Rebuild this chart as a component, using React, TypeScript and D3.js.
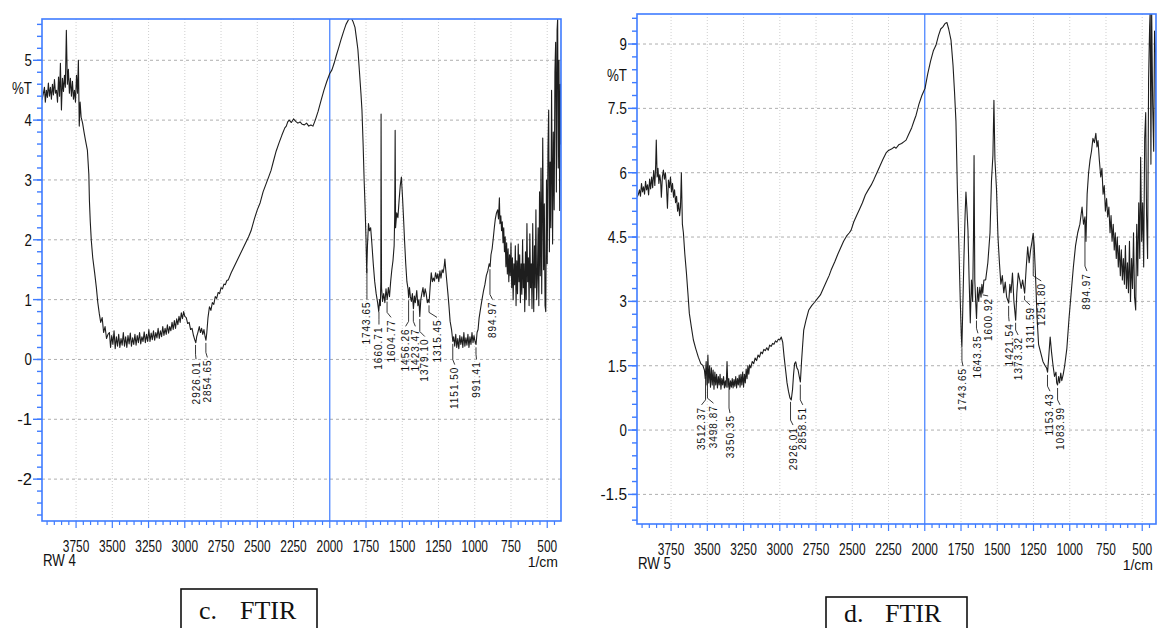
import React from "react";
import * as d3 from "d3";

// wavenumber (1/cm), %T  -- sample RW 4
const rw4Spectrum: [number, number][] = [
  [3985, 4.34], [3975, 4.45], [3968, 4.55], [3962, 4.3], [3955, 4.5], [3948, 4.38], [3941, 4.62], [3934, 4.4],
  [3927, 4.55], [3920, 4.35], [3913, 4.6], [3906, 4.42], [3899, 4.68], [3892, 4.45], [3885, 4.5], [3878, 4.3],
  [3871, 4.72], [3864, 4.4], [3858, 4.95], [3851, 4.17], [3844, 4.7], [3837, 4.48], [3830, 4.75], [3824, 4.55],
  [3817, 5.5], [3810, 4.6], [3803, 4.85], [3796, 4.45], [3789, 4.7], [3782, 4.4], [3775, 4.65], [3768, 4.35],
  [3761, 4.5], [3754, 4.3], [3747, 4.75], [3740, 4.45], [3734, 5.0], [3728, 3.9], [3722, 4.3], [3715, 4.05],
  [3705, 3.95], [3695, 3.8], [3685, 3.66], [3672, 3.5], [3662, 3.1], [3658, 2.66], [3652, 2.3], [3645, 1.99],
  [3635, 1.7], [3622, 1.45], [3610, 1.2], [3600, 0.95], [3590, 0.77], [3580, 0.62], [3570, 0.7], [3560, 0.45],
  [3550, 0.55], [3540, 0.35], [3530, 0.42], [3520, 0.45], [3512, 0.2], [3504, 0.4], [3496, 0.25], [3488, 0.48],
  [3480, 0.18], [3472, 0.38], [3464, 0.22], [3456, 0.42], [3448, 0.2], [3440, 0.35], [3432, 0.24], [3424, 0.45],
  [3416, 0.22], [3408, 0.38], [3400, 0.2], [3392, 0.4], [3384, 0.26], [3376, 0.44], [3368, 0.22], [3360, 0.36],
  [3352, 0.25], [3344, 0.42], [3336, 0.24], [3328, 0.4], [3320, 0.28], [3312, 0.45], [3304, 0.26], [3296, 0.38],
  [3288, 0.3], [3280, 0.46], [3272, 0.28], [3264, 0.42], [3256, 0.3], [3248, 0.5], [3240, 0.3], [3232, 0.44],
  [3224, 0.33], [3216, 0.48], [3208, 0.32], [3200, 0.45], [3192, 0.36], [3184, 0.52], [3176, 0.35], [3168, 0.48],
  [3160, 0.38], [3152, 0.55], [3144, 0.4], [3136, 0.52], [3128, 0.42], [3120, 0.58], [3112, 0.44], [3104, 0.55],
  [3096, 0.48], [3088, 0.62], [3080, 0.5], [3072, 0.65], [3064, 0.52], [3056, 0.68], [3048, 0.58], [3040, 0.72],
  [3032, 0.62], [3024, 0.78], [3016, 0.68], [3008, 0.8], [3000, 0.72], [2990, 0.7], [2980, 0.6], [2970, 0.62],
  [2960, 0.5], [2950, 0.52], [2940, 0.4], [2930, 0.32], [2924, 0.28], [2918, 0.38], [2910, 0.45], [2900, 0.55],
  [2892, 0.45], [2884, 0.52], [2876, 0.42], [2868, 0.5], [2860, 0.38], [2854, 0.32], [2848, 0.45], [2840, 0.7],
  [2830, 0.88], [2820, 0.82], [2810, 0.95], [2800, 0.92], [2790, 1.05], [2780, 1.02], [2770, 1.12], [2760, 1.1],
  [2750, 1.2], [2740, 1.18], [2730, 1.26], [2720, 1.25], [2710, 1.32], [2700, 1.33], [2680, 1.45], [2660, 1.55],
  [2640, 1.65], [2620, 1.75], [2600, 1.85], [2580, 1.95], [2560, 2.05], [2543, 2.15], [2520, 2.35], [2500, 2.5],
  [2480, 2.62], [2460, 2.8], [2440, 2.93], [2420, 3.06], [2405, 3.16], [2390, 3.3], [2370, 3.48], [2350, 3.62],
  [2330, 3.75], [2310, 3.87], [2300, 3.9], [2290, 3.97], [2280, 4.0], [2265, 3.96], [2250, 4.02], [2235, 3.98],
  [2220, 3.95], [2205, 3.97], [2190, 3.93], [2175, 3.92], [2160, 3.95], [2145, 3.9], [2130, 3.92], [2116, 3.9],
  [2100, 4.0], [2080, 4.15], [2060, 4.33], [2040, 4.5], [2020, 4.65], [2000, 4.78], [1985, 4.84], [1970, 4.95],
  [1955, 5.08], [1940, 5.2], [1923, 5.34], [1905, 5.48], [1888, 5.6], [1870, 5.68], [1854, 5.72], [1840, 5.65],
  [1826, 5.55], [1815, 5.35], [1806, 5.18], [1795, 4.8], [1785, 4.45], [1778, 4.17], [1770, 3.6], [1763, 3.0],
  [1757, 2.6], [1750, 2.0], [1745, 1.45], [1740, 1.9], [1733, 2.27], [1726, 2.15], [1718, 2.2], [1710, 1.95],
  [1700, 1.6], [1690, 1.3], [1680, 1.1], [1670, 0.95], [1662, 0.8], [1656, 1.0], [1651, 0.9], [1648, 1.3],
  [1646, 4.1], [1643, 1.2], [1636, 0.97], [1628, 1.1], [1620, 0.95], [1612, 1.18], [1604, 1.0], [1596, 1.2],
  [1588, 1.05], [1580, 1.3], [1572, 1.5], [1564, 1.65], [1556, 1.9], [1552, 2.4], [1549, 3.83], [1546, 2.2],
  [1538, 2.45], [1530, 2.37], [1522, 2.65], [1514, 2.9], [1506, 3.05], [1498, 2.7], [1490, 2.3], [1484, 1.98],
  [1476, 1.6], [1468, 1.3], [1460, 1.18], [1456, 1.03], [1450, 1.2], [1444, 1.05], [1437, 0.97], [1430, 1.1],
  [1423, 0.85], [1416, 1.06], [1410, 0.95], [1400, 1.15], [1392, 0.9], [1385, 1.0], [1379, 0.72], [1372, 1.0],
  [1365, 1.1], [1357, 1.2], [1350, 1.05], [1342, 1.18], [1335, 1.1], [1327, 0.95], [1320, 1.0], [1315, 0.95],
  [1308, 1.2], [1300, 1.45], [1292, 1.3], [1285, 1.36], [1278, 1.31], [1270, 1.45], [1262, 1.35], [1255, 1.43],
  [1248, 1.3], [1240, 1.48], [1233, 1.36], [1225, 1.5], [1218, 1.45], [1211, 1.55], [1206, 1.68], [1200, 1.5],
  [1193, 1.31], [1185, 1.1], [1178, 0.9], [1170, 0.64], [1160, 0.5], [1151, 0.3], [1145, 0.38], [1138, 0.22],
  [1131, 0.42], [1124, 0.2], [1117, 0.35], [1110, 0.18], [1103, 0.4], [1096, 0.25], [1089, 0.38], [1082, 0.2],
  [1075, 0.45], [1068, 0.22], [1061, 0.36], [1054, 0.24], [1047, 0.42], [1040, 0.2], [1033, 0.38], [1026, 0.25],
  [1019, 0.45], [1012, 0.28], [1005, 0.4], [998, 0.3], [991, 0.25], [984, 0.45], [977, 0.5], [970, 0.69],
  [960, 0.85], [950, 1.0], [940, 1.14], [930, 1.25], [920, 1.4], [910, 1.48], [900, 1.6], [894, 1.55],
  [888, 1.75], [880, 1.85], [872, 2.03], [865, 2.2], [858, 2.35], [850, 2.45], [842, 2.5], [836, 2.35],
  [830, 2.7], [826, 2.27], [820, 2.4], [815, 2.15], [810, 2.3], [805, 1.95], [800, 2.2], [795, 1.8],
  [790, 2.05], [785, 1.55], [780, 1.95], [775, 1.43], [770, 1.85], [765, 1.3], [760, 1.75], [755, 1.4],
  [750, 1.95], [745, 1.2], [740, 1.7], [735, 1.0], [730, 1.6], [725, 1.25], [720, 1.9], [715, 0.9],
  [710, 1.65], [705, 1.1], [700, 1.93], [695, 1.3], [690, 1.75], [685, 0.95], [680, 1.6], [675, 1.09],
  [670, 2.0], [665, 1.2], [660, 1.6], [655, 0.8], [650, 1.8], [645, 1.0], [640, 2.27], [635, 1.3],
  [630, 1.7], [625, 0.9], [620, 2.1], [615, 1.2], [610, 1.6], [605, 0.85], [600, 2.27], [595, 1.1],
  [593, 0.8], [588, 1.9], [583, 1.2], [578, 2.5], [573, 1.0], [568, 1.36], [563, 2.2], [558, 0.9],
  [553, 2.8], [548, 1.4], [543, 3.2], [538, 1.1], [531, 3.7], [525, 1.5], [520, 2.6], [515, 0.9],
  [510, 0.8], [505, 3.0], [500, 1.6], [495, 3.5], [490, 4.17], [485, 1.8], [480, 3.3], [475, 2.2],
  [470, 4.5], [463, 1.93], [458, 3.8], [452, 2.5], [447, 4.8], [442, 5.3], [437, 2.8], [432, 5.5],
  [428, 5.7], [424, 3.2], [419, 5.0], [414, 2.49], [410, 4.6], [406, 3.6], [401, 5.7],
];

// wavenumber (1/cm), %T  -- sample RW 5
const rw5Spectrum: [number, number][] = [
  [3985, 5.43], [3975, 5.5], [3968, 5.6], [3961, 5.45], [3954, 5.75], [3947, 5.55], [3940, 5.67], [3933, 5.5],
  [3926, 5.8], [3919, 5.6], [3912, 5.72], [3905, 5.48], [3898, 5.85], [3891, 5.62], [3884, 5.9], [3877, 5.65],
  [3870, 6.05], [3862, 5.7], [3856, 6.2], [3852, 6.76], [3846, 5.9], [3840, 6.1], [3834, 5.75], [3828, 5.95],
  [3822, 5.8], [3817, 5.43], [3810, 5.9], [3803, 6.06], [3796, 5.85], [3789, 6.0], [3782, 5.7], [3775, 5.17],
  [3768, 5.83], [3761, 5.65], [3754, 5.9], [3747, 5.55], [3740, 5.75], [3733, 5.43], [3726, 5.6], [3719, 5.3],
  [3712, 5.45], [3705, 5.1], [3698, 5.3], [3691, 5.0], [3685, 5.2], [3679, 6.0], [3672, 4.8], [3665, 4.6],
  [3655, 4.1], [3644, 3.66], [3634, 3.2], [3624, 2.72], [3610, 2.4], [3596, 2.1], [3580, 1.9], [3562, 1.7],
  [3545, 1.55], [3530, 1.5], [3520, 1.4], [3514, 1.2], [3508, 1.6], [3502, 1.05], [3496, 1.75], [3490, 1.1],
  [3484, 1.5], [3478, 1.0], [3472, 1.45], [3466, 1.05], [3460, 1.4], [3454, 0.95], [3448, 1.35], [3442, 1.05],
  [3436, 1.3], [3430, 0.98], [3424, 1.25], [3418, 1.05], [3412, 1.3], [3406, 0.95], [3400, 1.2], [3394, 1.05],
  [3388, 1.25], [3382, 0.98], [3376, 1.15], [3370, 1.0], [3364, 1.6], [3358, 1.0], [3352, 1.2], [3346, 0.95],
  [3340, 1.15], [3334, 1.0], [3328, 1.2], [3322, 0.98], [3316, 1.18], [3310, 1.02], [3304, 1.25], [3298, 0.98],
  [3292, 1.2], [3286, 1.05], [3280, 1.28], [3274, 1.0], [3268, 1.3], [3262, 1.05], [3256, 1.35], [3250, 1.0],
  [3244, 1.3], [3238, 1.1], [3232, 1.42], [3226, 1.2], [3220, 1.5], [3214, 1.3], [3208, 1.52], [3200, 1.45],
  [3190, 1.6], [3180, 1.55], [3170, 1.68], [3160, 1.62], [3150, 1.75], [3140, 1.7], [3130, 1.82], [3120, 1.78],
  [3110, 1.88], [3100, 1.85], [3090, 1.92], [3080, 1.86], [3070, 1.98], [3060, 1.95], [3050, 2.02], [3040, 2.0],
  [3030, 2.08], [3020, 2.05], [3010, 2.12], [3000, 2.1], [2990, 2.17], [2980, 2.05], [2970, 1.7], [2960, 1.4],
  [2950, 1.1], [2940, 0.9], [2930, 0.75], [2921, 0.7], [2912, 0.95], [2905, 1.3], [2898, 1.55], [2890, 1.59],
  [2882, 1.45], [2874, 1.4], [2866, 1.25], [2858, 1.12], [2850, 1.6], [2842, 2.0], [2835, 2.33], [2820, 2.55],
  [2800, 2.8], [2780, 2.9], [2760, 2.98], [2749, 3.03], [2720, 3.15], [2700, 3.3], [2680, 3.45], [2660, 3.6],
  [2646, 3.73], [2620, 3.93], [2600, 4.1], [2580, 4.25], [2560, 4.4], [2540, 4.52], [2520, 4.6], [2508, 4.66],
  [2490, 4.85], [2470, 5.0], [2450, 5.15], [2430, 5.3], [2410, 5.48], [2390, 5.6], [2370, 5.71], [2350, 5.85],
  [2330, 6.0], [2310, 6.15], [2290, 6.3], [2267, 6.46], [2250, 6.52], [2230, 6.55], [2210, 6.6], [2198, 6.57],
  [2180, 6.65], [2160, 6.68], [2145, 6.72], [2129, 6.76], [2110, 6.9], [2090, 7.05], [2075, 7.2], [2060, 7.34],
  [2040, 7.6], [2020, 7.8], [1998, 7.97], [1980, 8.3], [1960, 8.6], [1940, 8.85], [1923, 8.97], [1905, 9.2],
  [1890, 9.35], [1875, 9.4], [1860, 9.48], [1847, 9.5], [1835, 9.35], [1819, 9.09], [1805, 8.5], [1795, 7.9],
  [1785, 7.2], [1775, 5.6], [1764, 4.2], [1755, 3.0], [1748, 2.2], [1744, 1.93], [1738, 2.8], [1730, 4.0],
  [1722, 5.0], [1716, 5.55], [1710, 5.2], [1702, 4.66], [1694, 3.5], [1686, 2.5], [1678, 3.5], [1670, 3.0],
  [1664, 4.5], [1660, 6.4], [1655, 3.5], [1649, 3.0], [1643, 2.6], [1636, 3.33], [1628, 3.0], [1620, 3.33],
  [1612, 3.1], [1606, 3.4], [1600, 3.19], [1592, 3.5], [1580, 3.5], [1565, 3.9], [1550, 4.6], [1540, 5.8],
  [1530, 6.4], [1523, 7.69], [1516, 6.3], [1505, 5.6], [1495, 4.5], [1485, 3.9], [1475, 3.4], [1465, 3.6],
  [1455, 3.2], [1445, 3.45], [1435, 3.1], [1421, 2.96], [1413, 3.4], [1405, 3.2], [1395, 3.66], [1385, 3.0],
  [1373, 2.56], [1365, 3.2], [1355, 3.66], [1345, 3.5], [1335, 3.3], [1325, 3.5], [1311, 3.19], [1300, 3.8],
  [1290, 4.27], [1280, 3.9], [1270, 4.2], [1260, 4.4], [1252, 4.59], [1245, 4.3], [1235, 3.5], [1225, 2.6],
  [1215, 2.0], [1200, 1.8], [1185, 1.6], [1170, 1.5], [1160, 1.45], [1153, 1.35], [1145, 1.7], [1135, 2.17],
  [1125, 1.8], [1115, 1.5], [1105, 1.25], [1095, 1.35], [1090, 1.1], [1084, 1.05], [1077, 1.25], [1070, 1.1],
  [1062, 1.33], [1055, 1.15], [1045, 1.3], [1035, 1.5], [1020, 1.9], [1005, 2.6], [990, 3.2], [975, 3.8],
  [960, 4.3], [945, 4.6], [930, 4.8], [915, 5.2], [905, 4.8], [895, 4.97], [888, 4.4], [880, 5.5],
  [870, 6.0], [860, 6.3], [850, 6.5], [840, 6.8], [830, 6.7], [820, 6.92], [812, 6.6], [805, 6.75],
  [796, 6.3], [786, 5.9], [778, 6.1], [770, 5.5], [762, 5.7], [754, 5.1], [746, 5.4], [738, 4.97],
  [730, 5.2], [722, 4.6], [715, 5.0], [708, 4.4], [700, 4.8], [693, 4.2], [686, 4.6], [679, 4.0],
  [672, 4.5], [665, 3.8], [658, 4.3], [651, 3.6], [644, 4.2], [637, 3.5], [630, 4.0], [623, 3.4],
  [616, 4.3], [609, 3.3], [602, 3.9], [595, 3.2], [588, 4.4], [581, 3.0], [574, 4.0], [567, 3.3],
  [560, 4.6], [553, 3.1], [545, 2.8], [538, 4.8], [531, 3.6], [524, 5.3], [517, 4.0], [511, 6.36],
  [504, 4.4], [497, 5.3], [490, 3.8], [483, 6.8], [476, 7.4], [470, 5.0], [463, 4.0], [456, 8.2],
  [449, 9.4], [445, 9.8], [440, 6.2], [435, 9.8], [428, 7.6], [421, 6.5], [415, 9.3], [408, 8.8],
  [402, 5.6], [400, 5.6],
];

const waveTicks = [3750, 3500, 3250, 3000, 2750, 2500, 2250, 2000, 1750, 1500, 1250, 1000, 750, 500];
const rw4Ticks = [-2, -1, 0, 1, 2, 3, 4, 5];
const rw5Ticks = [-1.5, 0, 1.5, 3, 4.5, 6, 7.5, 9];

const rw4Peaks = ["2926.01", "2854.65", "1743.65", "1660.71", "1604.77", "1456.26", "1423.47", "1379.10", "1315.45", "1151.50", "991.41", "894.97"];
const rw5Peaks = ["3512.37", "3498.87", "3350.35", "2926.01", "2858.51", "1743.65", "1643.35", "1600.92", "1421.54", "1373.32", "1311.59", "1251.80", "1153.43", "1083.99", "894.97"];

// label placement: [x shift in px, %T where the label starts]
const rw4PeakLayout: [number, number][] = [
  [0.5, -0.03], [1.5, 0], [0, 0.97], [0, 0.55], [4, 0.67], [-3, 0.52], [2, 0.52], [5, 0.35], [8, 0.67], [2, -0.12], [0.5, -0.03], [2.5, 0.97],
];
const rw5PeakLayout: [number, number][] = [
  [-4, 0.54], [6, 0.58], [1, 0.35], [2.5, 0.07], [2.5, 0.54], [1, 1.45], [1.5, 2.21], [5.5, 3.08], [0.5, 2.49], [2.5, 2.17], [5.5, 2.87], [8, 3.43], [2.5, 0.86], [2.5, 0.54], [2, 3.66],
];

const AXIS = "#3f7cff";
const SANS = "'Liberation Sans', Arial, sans-serif";
const SERIF = "'Liberation Serif', 'Times New Roman', serif";

function valueAt(spec: [number, number][], wn: number) {
  for (let i = 0; i < spec.length - 1; i++) {
    const [a, va] = spec[i];
    const [b, vb] = spec[i + 1];
    if (wn <= a && wn >= b) return va + ((vb - va) * (a - wn)) / (a - b);
  }
  return spec[spec.length - 1][1];
}

// condensed text like the instrument printout
function Narrow({ x, y, anchor = "start", size = 16, width, children }) {
  const s = String(children);
  const w = width ?? s.length * size * 0.42;
  return (
    <text x={x} y={y} textAnchor={anchor} fontFamily={SANS} fontSize={size} fill="#111" textLength={w} lengthAdjust="spacingAndGlyphs">
      {s}
    </text>
  );
}

function Panel({ id, frame, spectrum, yDomain, yTicks, minorStep, peaks, layout, sample, percentY, caption, box }) {
  const { left, top, right, bottom } = frame;
  const x = d3.scaleLinear().domain([3985, 405]).range([left, right]);
  const y = d3.scaleLinear().domain(yDomain).range([bottom, top]);
  const line = d3.line<[number, number]>().x((d) => x(d[0])).y((d) => y(d[1]));

  const yMinor = d3.range(Math.ceil(yDomain[0] / minorStep) * minorStep, yDomain[1], minorStep);
  const xMinor = d3.range(3950, 405, -50);
  const fmt = (v: number) => (Number.isInteger(v) ? String(v) : v.toFixed(1));

  return (
    <g>
      <defs>
        <clipPath id={`clip-${id}`}>
          <rect x={left} y={top} width={right - left} height={bottom - top} />
        </clipPath>
      </defs>

      {/* grid */}
      {yTicks.map((t) => (
        <line key={`h${t}`} x1={left} x2={right} y1={y(t)} y2={y(t)} stroke="#9a9a9a" strokeWidth={0.8} strokeDasharray="3,3" />
      ))}
      {waveTicks.filter((t) => t !== 2000).map((t) => (
        <line key={`v${t}`} x1={x(t)} x2={x(t)} y1={top} y2={bottom} stroke="#c4c4c4" strokeWidth={0.8} strokeDasharray="1,2" />
      ))}
      <line x1={x(2000)} x2={x(2000)} y1={top} y2={bottom} stroke={AXIS} strokeWidth={1.2} />

      {/* spectrum */}
      <path d={line(spectrum) ?? ""} fill="none" stroke="#1e1e1e" strokeWidth={1.1} strokeLinejoin="round" clipPath={`url(#clip-${id})`} />

      {/* frame */}
      <rect x={left} y={top} width={right - left} height={bottom - top} fill="none" stroke={AXIS} strokeWidth={1.6} />

      {/* y axis */}
      {yMinor.map((t, i) => (
        <line key={`ym${i}`} x1={left - 5} x2={left} y1={y(t)} y2={y(t)} stroke={AXIS} strokeWidth={1.4} />
      ))}
      {yTicks.map((t) => (
        <g key={`yt${t}`}>
          <line x1={left - 9} x2={left} y1={y(t)} y2={y(t)} stroke={AXIS} strokeWidth={1.4} />
          <Narrow x={left - 10} y={y(t) + 6} anchor="end" size={17} width={fmt(t).length * 7.4 - (fmt(t).includes(".") ? 3 : 0)}>
            {fmt(t)}
          </Narrow>
        </g>
      ))}
      <Narrow x={left - 30} y={percentY} size={16} width={20}>%T</Narrow>

      {/* x axis */}
      {xMinor.map((t) => (
        <line key={`xm${t}`} x1={x(t)} x2={x(t)} y1={bottom} y2={bottom + (t % 250 === 0 ? 7 : 4)} stroke={AXIS} strokeWidth={1.2} />
      ))}
      {waveTicks.map((t) => (
        <Narrow key={`xt${t}`} x={x(t)} y={bottom + 31} anchor="middle" size={16} width={String(t).length * 6.6}>{t}</Narrow>
      ))}
      <Narrow x={left + 1} y={bottom + 45} size={16} width={33}>{sample}</Narrow>
      <text x={right - 3} y={bottom + 46} textAnchor="end" fontFamily={SANS} fontSize={14} fill="#111">1/cm</text>

      {/* peak labels */}
      {peaks.map((p, i) => {
        const wn = parseFloat(p);
        const [dx, topVal] = layout[i];
        const px = x(wn);
        const lx = px + dx;
        const cy = y(valueAt(spectrum, wn)) + 3;
        const ty = y(topVal);
        const bend = Math.max(cy, ty - 7);
        return (
          <g key={`pk${p}`}>
            <polyline points={`${px},${cy} ${px},${bend} ${lx},${ty - 2}`} fill="none" stroke="#222" strokeWidth={0.9} />
            <text
              transform={`translate(${lx},${ty}) rotate(-90)`}
              textAnchor="end"
              dy="0.35em"
              fontFamily={SANS}
              fontSize={10}
              letterSpacing={1}
              fill="#111"
            >
              {p}
            </text>
          </g>
        );
      })}

      {/* caption */}
      <rect x={box.x} y={box.y} width={box.w} height={60} fill="#fff" stroke="#111" strokeWidth={1.6} />
      <text x={box.x + 18} y={box.base} fontFamily={SERIF} fontSize={26} fill="#111">
        {caption}
      </text>
      <text x={box.x + 59} y={box.base} fontFamily={SERIF} fontSize={26} fill="#111">
        FTIR
      </text>
    </g>
  );
}

export default function App() {
  return (
    <svg width={1158} height={628} style={{ position: "absolute", left: 0, top: 0, background: "#fff" }}>
      <rect width={1158} height={628} fill="#fff" />
      <Panel
        id="rw4"
        frame={{ left: 42, top: 19, right: 561, bottom: 521 }}
        spectrum={rw4Spectrum}
        yDomain={[-2.7, 5.69]}
        yTicks={rw4Ticks}
        minorStep={0.2}
        peaks={rw4Peaks}
        layout={rw4PeakLayout}
        sample="RW 4"
        percentY={94}
        caption="c."
        box={{ x: 181, y: 589, w: 136, base: 619 }}
      />
      <Panel
        id="rw5"
        frame={{ left: 637, top: 14, right: 1156, bottom: 524 }}
        spectrum={rw5Spectrum}
        yDomain={[-2.19, 9.7]}
        yTicks={rw5Ticks}
        minorStep={0.3}
        peaks={rw5Peaks}
        layout={rw5PeakLayout}
        sample="RW 5"
        percentY={81}
        caption="d."
        box={{ x: 826, y: 597, w: 141, base: 622 }}
      />
    </svg>
  );
}
